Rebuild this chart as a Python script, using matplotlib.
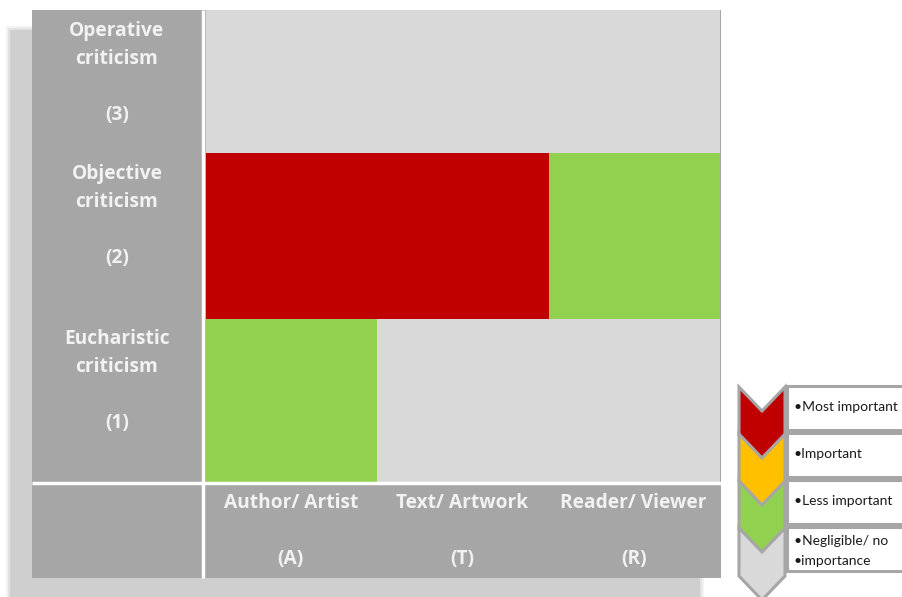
import matplotlib
matplotlib.use("Agg")
import matplotlib.pyplot as plt
from matplotlib.colors import ListedColormap
from matplotlib.patches import Rectangle, Polygon
import numpy as np

# ---- data ----
criticisms = ["Operative\ncriticism\n\n(3)",
              "Objective\ncriticism\n\n(2)",
              "Eucharistic\ncriticism\n\n(1)"]
sources = ["Author/ Artist\n\n(A)", "Text/ Artwork\n\n(T)", "Reader/ Viewer\n\n(R)"]
# importance level: 0 negligible, 1 less important, 2 important, 3 most important
importance = [
    [0, 0, 0],   # operative
    [3, 3, 1],   # objective
    [1, 0, 0],   # eucharistic
]
levels = ["•Most important", "•Important", "•Less important", "•Negligible/ no\n•importance"]
level_values = [3, 2, 1, 0]
level_colors = {0: "#d9d9d9", 1: "#92d050", 2: "#ffc000", 3: "#c00000"}

# ---- layout (pixels) ----
W, H = 903, 597
fig = plt.figure(figsize=(W / 100, H / 100), dpi=100)
ax = fig.add_axes([0, 0, 1, 1])
ax.set_xlim(0, W)
ax.set_ylim(H, 0)
ax.axis("off")

plt.rcParams["font.family"] = ["Lato", "DejaVu Sans"]

# shadow
for grow, a in [(4, 0.25), (2, 0.45), (0, 1.0)]:
    ax.add_patch(Rectangle((10 - grow, 30 - grow), 690 + 2 * grow, 580 + 2 * grow,
                           facecolor="#cfcfcf", edgecolor="none", alpha=a, zorder=0))

# main panel
lab_col = "#a6a6a6"
ax.add_patch(Rectangle((32, 10), 689, 568, facecolor=lab_col, edgecolor="none", zorder=1))

# grid cells
x_edges = np.array([206, 377.5, 549, 720.5])
y_edges = np.array([10, 153, 318.5, 481.5])
cmap = ListedColormap([level_colors[k] for k in range(4)])
ax.pcolormesh(x_edges, y_edges, np.array(importance), cmap=cmap, vmin=-0.5, vmax=3.5,
              zorder=2, edgecolor="none", antialiased=False)

# white separators
ax.plot([203.5, 203.5], [10, 578], color="white", lw=2.5, zorder=3, solid_capstyle="butt")
ax.plot([32, 721], [483, 483], color="white", lw=2.5, zorder=3, solid_capstyle="butt")

txt_col = "#f2f2f2"
big_font = dict(family=["Open Sans", "DejaVu Sans"], fontsize=13.8, fontweight="bold")
row_label_tops = [29, 172, 337]
for lab, y in zip(criticisms, row_label_tops):
    ax.text(117, y - 8, lab, ha="center", va="top", color=txt_col,
            linespacing=1.53, zorder=4, **big_font)

col_centers = (x_edges[:-1] + x_edges[1:]) / 2
for lab, x in zip(sources, col_centers):
    ax.text(x - 1, 493, lab, ha="center", va="top", color=txt_col,
            linespacing=1.53, zorder=4, **big_font)

# legend chevrons and boxes
cx0, cx1 = 739, 785
cmid = (cx0 + cx1) / 2
step = 47
for i, (lab, val) in enumerate(zip(levels, level_values)):
    top = 387 + i * step
    ax.add_patch(Rectangle((787, top - 1), 130, 44, facecolor="white",
                           edgecolor="#a6a6a6", lw=2.2, zorder=2))
    yoff = 23 if "\n" in lab else 20
    ax.text(794, top + yoff, lab, ha="left", va="center", fontsize=10, color="#1a1a1a",
            linespacing=1.75, zorder=6)
for i, val in enumerate(level_values):
    top = 387 + i * step
    pts = [(cx0, top), (cmid, top + 24), (cx1, top), (cx1, top + 48),
           (cmid, top + 72), (cx0, top + 48)]
    ax.add_patch(Polygon(pts, closed=True, facecolor=level_colors[val],
                         edgecolor="#a6a6a6", lw=2.2, zorder=3 + i * 0.1,
                         joinstyle="miter"))

fig.savefig("out.png", dpi=100)
